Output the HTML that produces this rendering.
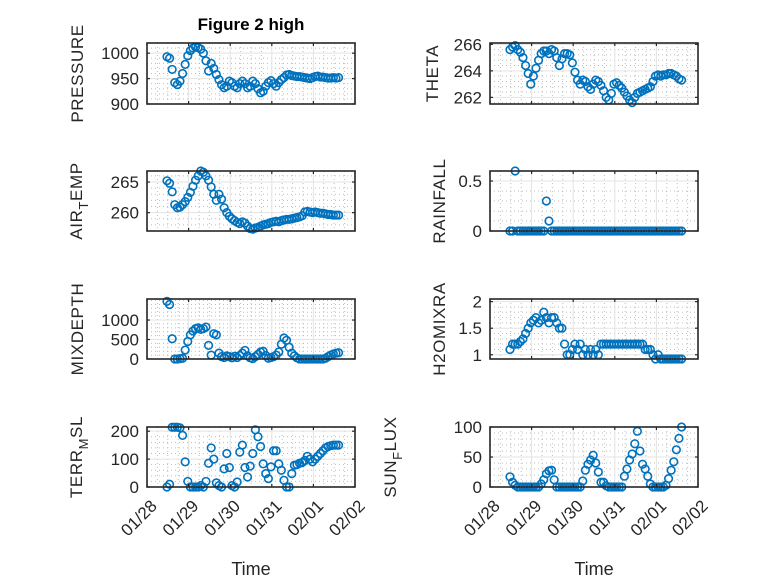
<!DOCTYPE html>
<html><head><meta charset="utf-8"><style>
html,body{margin:0;padding:0;background:#fff;}
svg{display:block;font-family:"Liberation Sans",sans-serif;}
</style></head><body>
<svg id="fig" width="778" height="583" viewBox="0 0 778 583" xmlns="http://www.w3.org/2000/svg">
<rect width="778" height="583" fill="#fff"/>
<text x="251" y="30" text-anchor="middle" font-size="17" font-weight="bold" fill="#000">Figure 2 high</text>
</svg>
<script>
const xTickLabels = ["01/28","01/29","01/30","01/31","02/01","02/02"];
const t0 = 0.48, dt = 1/16;
const pressure = [993,990,968,942,938,945,960,978,995,1005,1010,1012,1011,1008,1000,985,965,980,970,958,948,938,932,935,945,942,935,932,940,945,940,932,935,945,940,930,922,925,935,942,946,940,935,942,948,952,957,958,956,955,954,954,953,952,951,950,952,954,955,953,953,952,951,951,952,951,952];
const theta = [265.6,265.8,265.9,265.6,265.4,265.0,264.4,263.8,263.0,263.6,264.2,264.8,265.3,265.5,265.5,265.3,265.6,265.5,265.0,264.4,264.9,265.3,265.3,265.2,264.6,263.9,263.3,263.0,263.3,263.2,262.8,262.6,263.0,263.3,263.2,262.9,262.5,262.0,261.8,262.3,263.0,263.1,262.9,262.7,262.4,262.1,261.8,261.6,262.0,262.3,262.4,262.5,262.6,262.7,262.8,263.2,263.6,263.7,263.6,263.7,263.7,263.8,263.8,263.7,263.6,263.4,263.3];
const airTemp = [265.2,264.8,263.4,261.3,260.8,260.9,261.3,261.8,262.5,263.3,264.3,265.3,266.0,266.8,266.6,266.0,265.3,264.2,263.0,262.0,263.0,262.2,260.8,260.0,259.4,259.0,258.7,258.4,258.2,258.5,258.3,257.8,257.4,257.3,257.5,257.6,257.8,258.0,258.1,258.2,258.4,258.5,258.6,258.5,258.7,258.8,258.9,258.9,259.0,259.1,259.2,259.3,259.5,260.1,260.2,260.1,260.0,260.1,260.0,259.9,259.9,259.8,259.7,259.7,259.6,259.6,259.6];
const rainfall = [0,0,0.6,0,0,0,0,0,0,0,0,0,0,0,0.3,0.1,0,0,0,0,0,0,0,0,0,0,0,0,0,0,0,0,0,0,0,0,0,0,0,0,0,0,0,0,0,0,0,0,0,0,0,0,0,0,0,0,0,0,0,0,0,0,0,0,0,0,0];
const mixDepth = [1480,1400,520,0,0,10,20,230,450,620,720,780,800,760,780,820,350,100,650,620,150,60,40,80,60,30,70,40,90,150,220,80,30,10,60,120,180,200,90,20,40,60,100,180,380,540,480,300,150,80,30,0,0,0,0,0,0,0,0,0,0,20,60,100,130,150,160];
const h2oMix = [1.1,1.2,1.2,1.2,1.25,1.3,1.4,1.5,1.6,1.65,1.7,1.6,1.65,1.8,1.7,1.6,1.7,1.7,1.6,1.5,1.5,1.2,1.0,1.0,1.1,1.2,1.1,1.2,1.0,1.1,1.0,1.1,1.0,1.1,1.0,1.2,1.2,1.2,1.2,1.2,1.2,1.2,1.2,1.2,1.2,1.2,1.2,1.2,1.2,1.2,1.2,1.2,1.1,1.1,1.1,1.0,0.92,1.0,0.92,0.92,0.92,0.92,0.92,0.92,0.92,0.92,0.92];
const terrMsl = [0,10,214,214,214,212,185,90,20,0,0,0,0,5,0,20,85,140,100,15,5,0,65,120,70,5,0,18,125,150,70,36,75,120,205,180,145,83,48,30,72,130,130,83,60,24,0,0,48,78,80,85,88,95,110,100,90,100,110,120,130,140,145,148,150,150,150];
const sunFlux = [17,8,3,0,0,0,0,0,0,0,0,0,5,12,22,27,28,12,0,0,0,0,0,0,0,0,0,0,10,28,38,45,53,40,25,8,8,2,0,0,0,0,0,0,18,30,45,55,72,93,60,38,30,18,5,0,0,0,0,0,3,14,28,42,62,81,100];

const pressureTicks=[900,950,1000], thetaTicks=[262,264,266], airTicks=[260,265], rainTicks=[0,0.5], mixTicks=[0,500,1000], h2oTicks=[1,1.5,2], terrTicks=[0,100,200], sunTicks=[0,50,100];

const NS="http://www.w3.org/2000/svg";
const svg=document.getElementById('fig');
function mk(tag,attrs,parent){const e=document.createElementNS(NS,tag);for(const k in attrs)e.setAttribute(k,attrs[k]);(parent||svg).appendChild(e);return e;}

const panels=[
 {key:'pressure',data:pressure,ticks:pressureTicks,ylim:[900,1020],minor:10,x:147,y:43,h:61,label:['PRESSURE'],lx:83,xt:false},
 {key:'theta',data:theta,ticks:thetaTicks,ylim:[261.5,266.1],minor:0.4,x:490,y:43,h:61,label:['THETA'],lx:438,xt:false},
 {key:'air-temp',data:airTemp,ticks:airTicks,ylim:[257,266.8],minor:1,x:147,y:171,h:60,label:['AIR','T','EMP'],lx:82,xt:false},
 {key:'rainfall',data:rainfall,ticks:rainTicks,ylim:[0,0.6],minor:0.1,x:490,y:171,h:60,label:['RAINFALL'],lx:445,xt:false},
 {key:'mixdepth',data:mixDepth,ticks:mixTicks,ylim:[0,1540],minor:100,x:147,y:299,h:60,label:['MIXDEPTH'],lx:83,xt:false},
 {key:'h2omixra',data:h2oMix,ticks:h2oTicks,ylim:[0.92,2.05],minor:0.1,x:490,y:299,h:60,label:['H2OMIXRA'],lx:445,xt:false},
 {key:'terr-msl',data:terrMsl,ticks:terrTicks,ylim:[0,215],minor:20,x:147,y:427,h:60,label:['TERR','M','SL'],lx:82,xt:true},
 {key:'sun-flux',data:sunFlux,ticks:sunTicks,ylim:[0,100],minor:10,x:490,y:427,h:60,label:['SUN','F','LUX'],lx:396,xt:true}
];
const W=208, XMIN=0, XMAX=5;

panels.forEach(p=>{
 const g=mk('g',{});
 
 
 const sx=v=>p.x+(v-XMIN)/(XMAX-XMIN)*W;
 const sy=v=>p.y+p.h-(v-p.ylim[0])/(p.ylim[1]-p.ylim[0])*p.h;
 mk('rect',{x:p.x,y:p.y,width:W,height:p.h,fill:'#fff'},g);
 for(let d=0;d<=XMAX;d+=0.25){ if(Math.abs(d-Math.round(d))<1e-6) continue; const X=sx(d); mk('line',{x1:X,x2:X,y1:p.y,y2:p.y+p.h,stroke:'#bdbdbd','stroke-width':1,'stroke-dasharray':'1 3'},g);}
 const start=Math.ceil(p.ylim[0]/p.minor-1e-9)*p.minor;
 for(let v=start;v<=p.ylim[1]+1e-9;v+=p.minor){ if(p.ticks.some(t=>Math.abs(t-v)<1e-6)) continue; const Y=sy(v); mk('line',{x1:p.x,x2:p.x+W,y1:Y,y2:Y,stroke:'#bdbdbd','stroke-width':1,'stroke-dasharray':'1 3'},g);}
 for(let d=1;d<XMAX;d++){const X=sx(d); mk('line',{x1:X,x2:X,y1:p.y,y2:p.y+p.h,stroke:'#e3e3e3','stroke-width':1},g);}
 p.ticks.forEach(v=>{const Y=sy(v); if(Y>p.y+1&&Y<p.y+p.h-1) mk('line',{x1:p.x,x2:p.x+W,y1:Y,y2:Y,stroke:'#e3e3e3','stroke-width':1},g);});
 p.data.forEach((v,i)=>{
  const c=mk('circle',{cx:sx(t0+i*dt),cy:sy(v),r:3.8,fill:'none',stroke:'#0072BD','stroke-width':1.6},g);
  
  
 });
 const box=mk('rect',{x:p.x,y:p.y,width:W,height:p.h,fill:'none',stroke:'#262626','stroke-width':1.6},g);
 
 
 for(let d=0;d<=XMAX;d++){const X=sx(d);
  mk('line',{x1:X,x2:X,y1:p.y+p.h,y2:p.y+p.h-3,stroke:'#262626','stroke-width':1.2},g);
  mk('line',{x1:X,x2:X,y1:p.y,y2:p.y+3,stroke:'#262626','stroke-width':1.2},g);
  if(p.xt){const tx=mk('text',{x:0,y:0,transform:`translate(${X+11},${p.y+p.h+20}) rotate(-45)`,'text-anchor':'end','font-size':17,fill:'#262626'},g);
   tx.textContent=xTickLabels[d];
   
   }
 }
 p.ticks.forEach(v=>{const Y=sy(v);
  mk('line',{x1:p.x,x2:p.x+3,y1:Y,y2:Y,stroke:'#262626','stroke-width':1.2},g);
  mk('line',{x1:p.x+W,x2:p.x+W-3,y1:Y,y2:Y,stroke:'#262626','stroke-width':1.2},g);
  const tx=mk('text',{x:p.x-8,y:Y+6,'text-anchor':'end','font-size':17,fill:'#262626'},g);
  tx.textContent=String(v);
  
  
 });
 const cy=p.y+p.h/2;
 const lab=mk('text',{x:0,y:0,transform:`translate(${p.lx},${cy}) rotate(-90)`,'text-anchor':'middle','font-size':17,fill:'#262626','letter-spacing':'0.6'},g);
 
 
 if(p.label.length===1){lab.textContent=p.label[0];}
 else{const a=mk('tspan',{},lab);a.textContent=p.label[0];
  const b=mk('tspan',{dy:6,'font-size':13},lab);b.textContent=p.label[1];
  const c=mk('tspan',{dy:-6},lab);c.textContent=p.label[2];}
});
[251,594].forEach((x,i)=>{const t=mk('text',{x:x,y:575,'text-anchor':'middle','font-size':18,fill:'#262626'});t.textContent='Time';
 
 });
</script>
</body></html>
